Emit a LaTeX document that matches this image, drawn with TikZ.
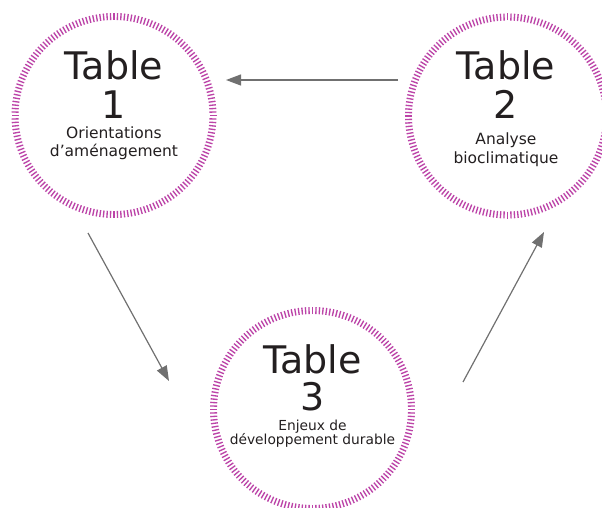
\documentclass[tikz,border=0pt]{standalone}
\usepackage{fontspec}
\setmainfont{DejaVu Sans}
\usetikzlibrary{arrows.meta}
\definecolor{ringpink}{RGB}{188,68,168}
\definecolor{txtdark}{RGB}{35,31,32}
\definecolor{arrowgray}{RGB}{112,112,112}
\tikzset{
  ringstripe/.style={draw=ringpink, line width=1.35pt},
  bigtxt/.style={anchor=base, text=txtdark, inner sep=0pt, font=\fontsize{38}{38}\selectfont},
  smalltxt/.style={anchor=base, text=txtdark, inner sep=0pt, font=\fontsize{15.5}{17}\selectfont},
  tinytxt/.style={anchor=base, text=txtdark, inner sep=0pt, font=\fontsize{13.8}{15}\selectfont},
  flowarrow/.style={draw=arrowgray, line width=1.2pt, -{Triangle[length=15pt,width=11pt]}},
}
\begin{document}
\begin{tikzpicture}[x=1pt,y=-1pt]
  \useasboundingbox (0,0) rectangle (602,508);
  \clip (0,0) rectangle (602,508);

  % circle centres
  \coordinate (c1) at (114,115.5);
  \coordinate (c2) at (507.5,116);
  \coordinate (c3) at (312.5,409.5);

  % striped rings
  \foreach \c in {c1,c2,c3}{
    \foreach \i in {0,...,179}{
      \draw[ringstripe] (\c) ++(\i*2:95.5pt) -- ++(\i*2:7pt);
    }
  }

  % Table 1
  \node[bigtxt] (t1a) at (114,80) {Table};
  \node[bigtxt] (t1b) at (114,118) {1};
  \node[smalltxt] (t1c) at (114,139) {Orientations};
  \node[smalltxt] (t1d) at (114,156) {d’aménagement};

  % Table 2
  \node[bigtxt] (t2a) at (506,80) {Table};
  \node[bigtxt] (t2b) at (506,118) {2};
  \node[smalltxt] (t2c) at (506,145) {Analyse};
  \node[smalltxt] (t2d) at (506,163) {bioclimatique};

  % Table 3
  \node[bigtxt] (t3a) at (312.5,373) {Table};
  \node[bigtxt] (t3b) at (312.5,410) {3};
  \node[tinytxt] (t3c) at (312.5,430) {Enjeux de};
  \node[tinytxt] (t3d) at (312.5,444) {développement durable};

  % arrow end points
  \coordinate (a21s) at (398,80);
  \coordinate (a21e) at (226,80);
  \coordinate (a13s) at (88,233);
  \coordinate (a13e) at (169,381);
  \coordinate (a32s) at (463,382);
  \coordinate (a32e) at (544,232);

  \draw[flowarrow] (a21s) -- (a21e);
  \draw[flowarrow] (a13s) -- (a13e);
  \draw[flowarrow] (a32s) -- (a32e);
\end{tikzpicture}
\end{document}
